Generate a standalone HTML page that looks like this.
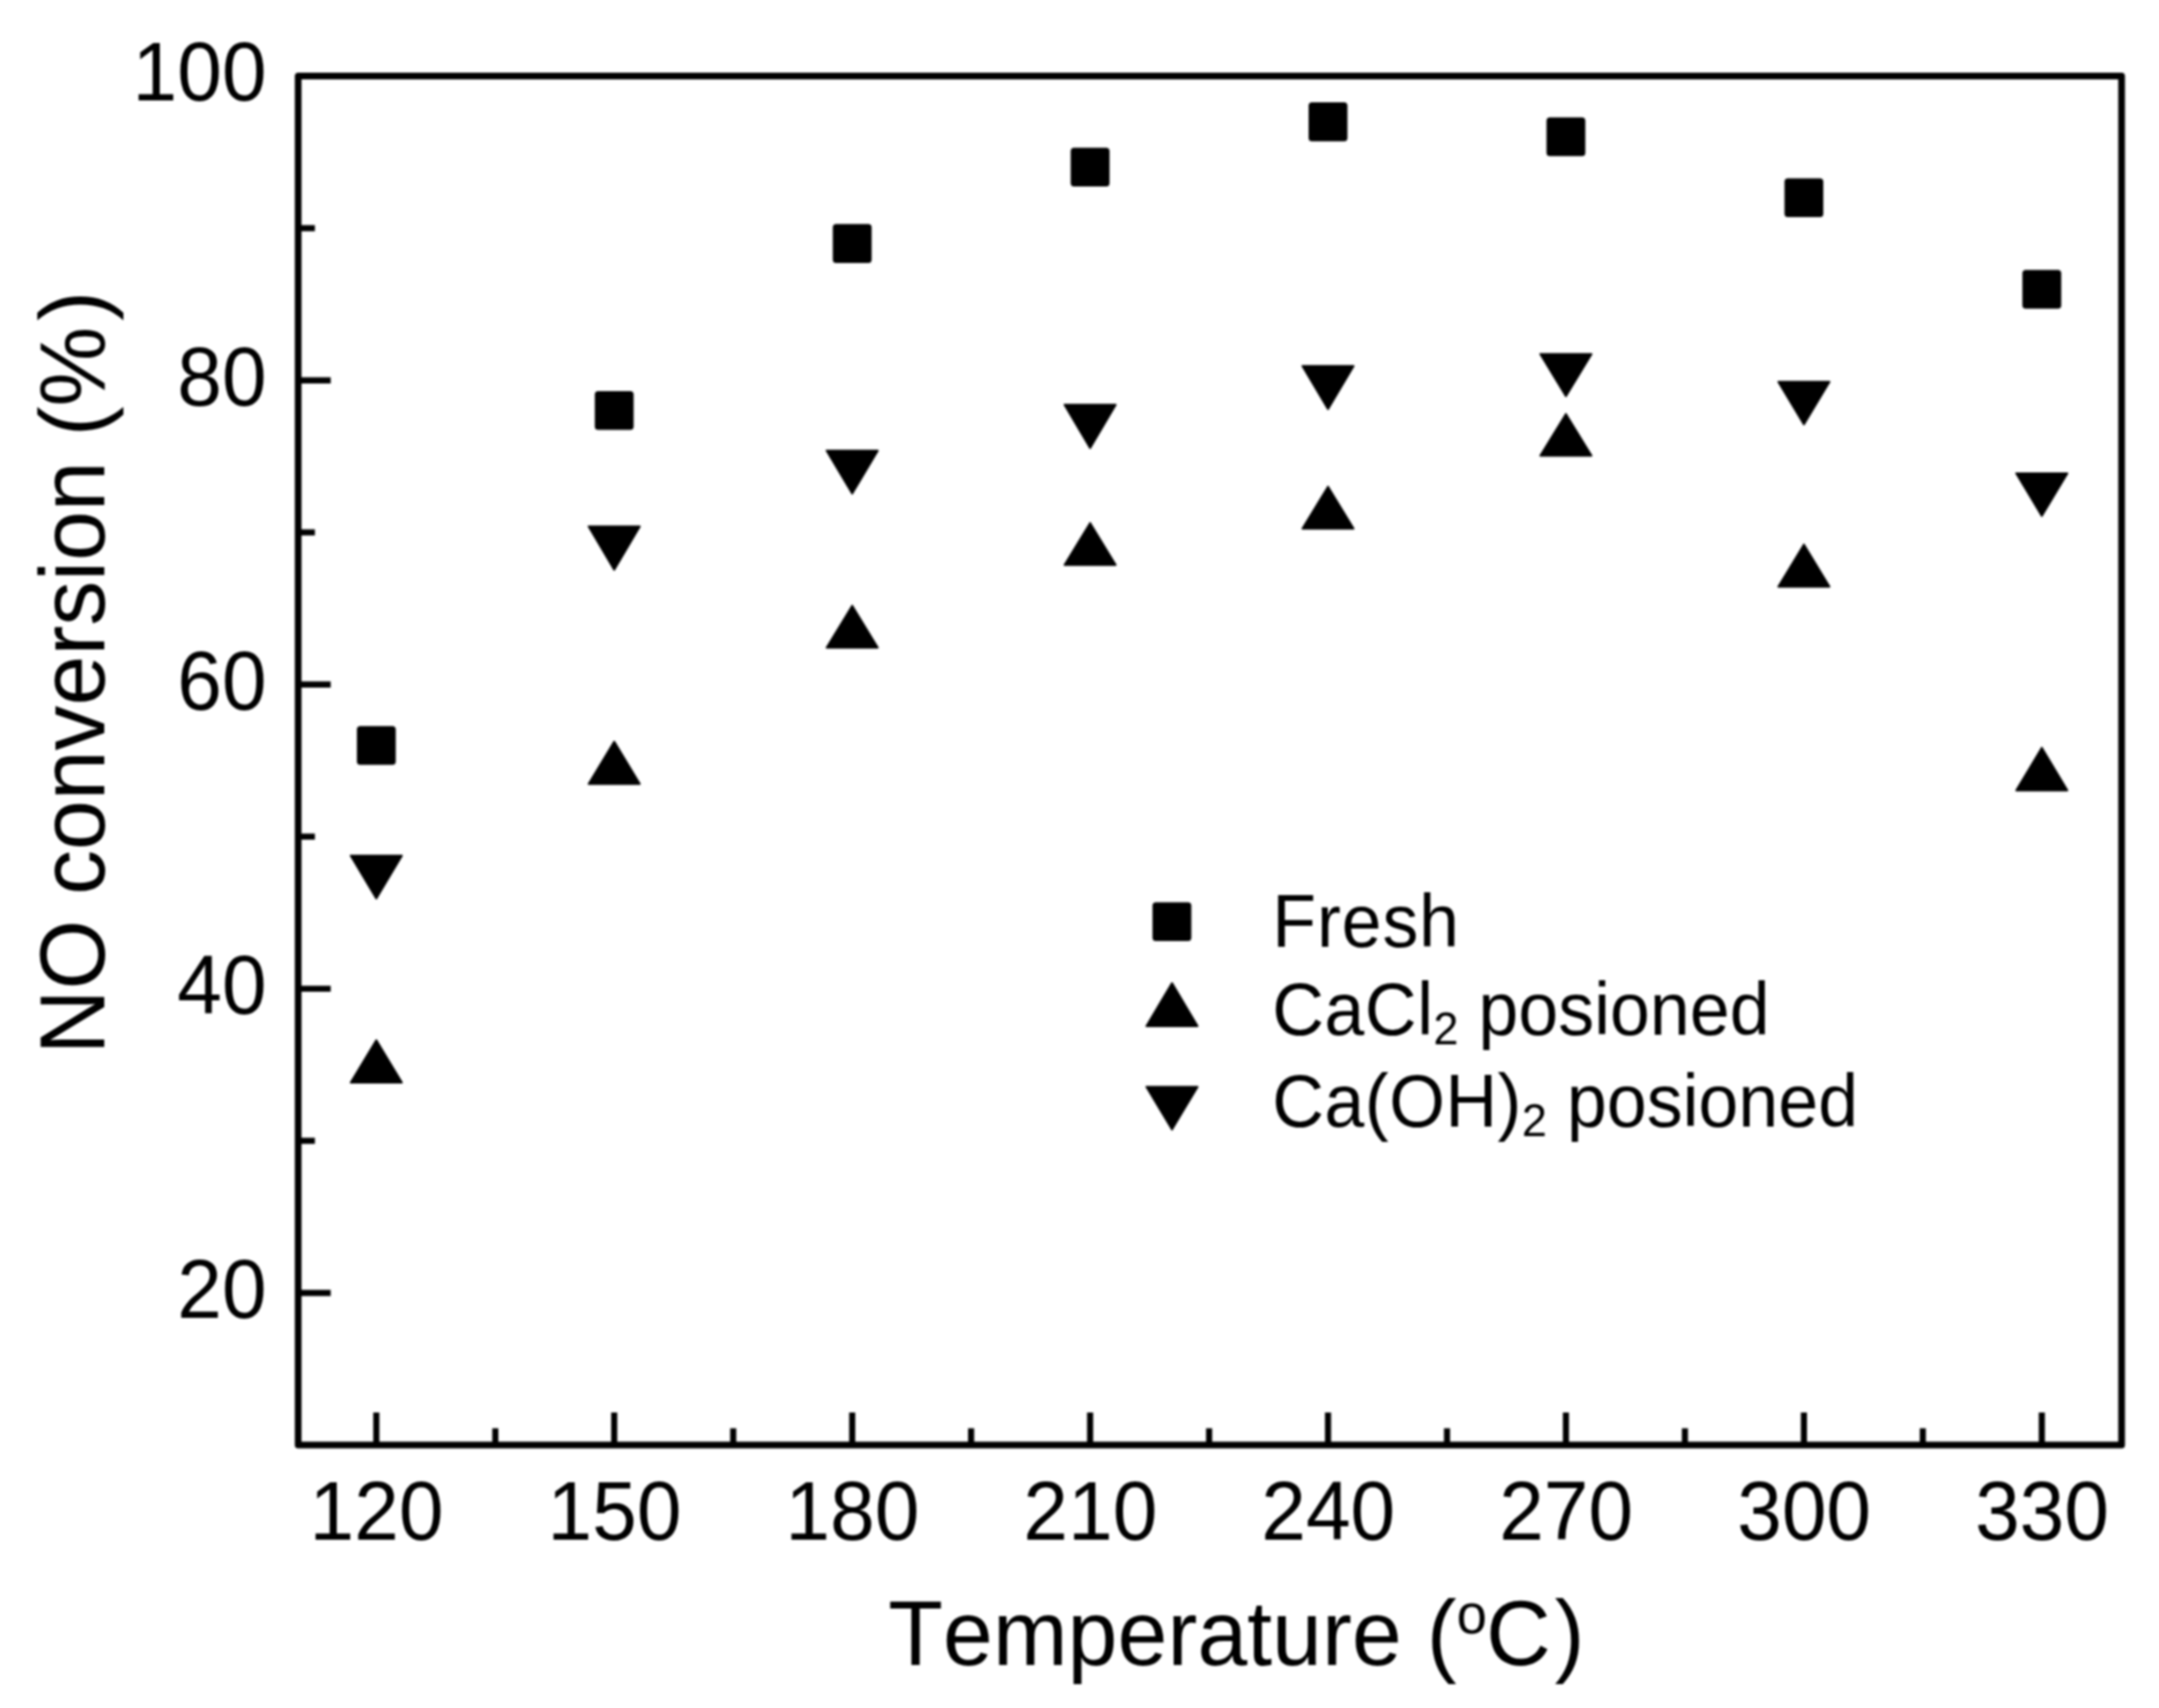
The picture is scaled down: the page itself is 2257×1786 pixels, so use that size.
<!DOCTYPE html>
<html lang="en"><head><meta charset="utf-8"><title>NO conversion vs Temperature</title>
<style>
html,body{margin:0;padding:0;background:#fff;}
body{width:2257px;height:1786px;overflow:hidden;}
svg{display:block;filter:blur(1px);}
text{font-kerning:none;font-family:"Liberation Sans",Arial,Helvetica,sans-serif;fill:#000;}
.tick{font-size:84px;}
.title{font-size:93.8px;}
.leg{font-size:75px;}
</style></head><body>
<svg width="2257" height="1786" viewBox="0 0 2257 1786">
<rect width="2257" height="1786" fill="#fff"/>
<g id="chart">

<rect x="311.7" y="79.6" width="1906.2" height="1431.4" fill="none" stroke="#000" stroke-width="7.0" stroke-linejoin="round"/>
<g stroke="#000" stroke-width="6.4" stroke-linecap="butt" fill="none">
<path d="M311.7 1352.0h34"/>
<path d="M311.7 1033.9h34"/>
<path d="M311.7 715.8h34"/>
<path d="M311.7 397.7h34"/>
<path d="M311.7 1192.9h17.5"/>
<path d="M311.7 874.8h17.5"/>
<path d="M311.7 556.7h17.5"/>
<path d="M311.7 238.6h17.5"/>
<path d="M393.4 1511.0v-34"/>
<path d="M517.8 1511.0v-17.5"/>
<path d="M642.1 1511.0v-34"/>
<path d="M766.5 1511.0v-17.5"/>
<path d="M890.9 1511.0v-34"/>
<path d="M1015.2 1511.0v-17.5"/>
<path d="M1139.6 1511.0v-34"/>
<path d="M1264.0 1511.0v-17.5"/>
<path d="M1388.3 1511.0v-34"/>
<path d="M1512.7 1511.0v-17.5"/>
<path d="M1637.0 1511.0v-34"/>
<path d="M1761.4 1511.0v-17.5"/>
<path d="M1885.8 1511.0v-34"/>
<path d="M2010.1 1511.0v-17.5"/>
<path d="M2134.5 1511.0v-34"/>
</g>
<text class="tick" text-anchor="end" transform="translate(278.6 1377.8) scale(1 1.04)">20</text>
<text class="tick" text-anchor="end" transform="translate(278.6 1059.7) scale(1 1.04)">40</text>
<text class="tick" text-anchor="end" transform="translate(278.6 741.6) scale(1 1.04)">60</text>
<text class="tick" text-anchor="end" transform="translate(278.6 423.5) scale(1 1.04)">80</text>
<text class="tick" text-anchor="end" transform="translate(278.6 105.4) scale(1 1.04)">100</text>
<text class="tick" text-anchor="middle" transform="translate(393.6 1610.0) scale(1 1.04)">120</text>
<text class="tick" text-anchor="middle" transform="translate(642.3 1610.0) scale(1 1.04)">150</text>
<text class="tick" text-anchor="middle" transform="translate(891.1 1610.0) scale(1 1.04)">180</text>
<text class="tick" text-anchor="middle" transform="translate(1139.8 1610.0) scale(1 1.04)">210</text>
<text class="tick" text-anchor="middle" transform="translate(1388.5 1610.0) scale(1 1.04)">240</text>
<text class="tick" text-anchor="middle" transform="translate(1637.2 1610.0) scale(1 1.04)">270</text>
<text class="tick" text-anchor="middle" transform="translate(1886.0 1610.0) scale(1 1.04)">300</text>
<text class="tick" text-anchor="middle" transform="translate(2134.7 1610.0) scale(1 1.04)">330</text>
<text class="title" transform="translate(928.5 1741.0) scale(1 1.025)">Temperature (<tspan font-size="57" dy="-32.5">o</tspan><tspan dy="32.5" dx="-1">C</tspan><tspan dx="4">)</tspan></text>
<text class="title" transform="translate(109.2 1102.6) rotate(-90) scale(1 1.025)">NO conversion (%<tspan dx="6">)</tspan></text>
<g fill="#000" stroke="#000" stroke-width="2" stroke-linejoin="round">
<rect x="374.1" y="760.2" width="38.6" height="38.6" rx="2.5"/>
<rect x="622.8" y="410.0" width="38.6" height="38.6" rx="2.5"/>
<rect x="871.6" y="235.3" width="38.6" height="38.6" rx="2.5"/>
<rect x="1120.3" y="155.5" width="38.6" height="38.6" rx="2.5"/>
<rect x="1369.0" y="108.1" width="38.6" height="38.6" rx="2.5"/>
<rect x="1617.7" y="123.7" width="38.6" height="38.6" rx="2.5"/>
<rect x="1866.5" y="187.5" width="38.6" height="38.6" rx="2.5"/>
<rect x="2115.2" y="283.2" width="38.6" height="38.6" rx="2.5"/>
<path d="M393.4 1087.7L420.1 1131.9L366.7 1131.9Z"/>
<path d="M642.1 775.6L668.8 819.7L615.4 819.7Z"/>
<path d="M890.9 633.4L917.6 677.2L864.2 677.2Z"/>
<path d="M1139.6 546.9L1166.3 590.7L1112.9 590.7Z"/>
<path d="M1388.3 508.9L1415.0 552.7L1361.6 552.7Z"/>
<path d="M1637.0 432.9L1663.7 476.4L1610.3 476.4Z"/>
<path d="M1885.8 569.4L1912.5 613.5L1859.1 613.5Z"/>
<path d="M2134.5 781.9L2161.2 826.5L2107.8 826.5Z"/>
<path d="M366.7 894.7L420.1 894.7L393.4 939.4Z"/>
<path d="M615.4 550.4L668.8 550.4L642.1 595.8Z"/>
<path d="M864.2 471.2L917.6 471.2L890.9 516.1Z"/>
<path d="M1112.9 423.2L1166.3 423.2L1139.6 468.5Z"/>
<path d="M1361.6 382.7L1415.0 382.7L1388.3 427.7Z"/>
<path d="M1610.3 370.2L1663.7 370.2L1637.0 414.2Z"/>
<path d="M1859.1 399.3L1912.5 399.3L1885.8 443.7Z"/>
<path d="M2107.8 494.9L2161.2 494.9L2134.5 539.5Z"/>
<rect x="1205.8" y="944.4" width="38.6" height="38.6" rx="2.5"/>
<path d="M1225.2 1028.1L1251.9 1073.0L1198.5 1073.0Z"/>
<path d="M1198.5 1136.4L1251.9 1136.4L1225.2 1181.1Z"/>
</g>
<text class="leg" transform="translate(1330.0 990.0) scale(1 1.025)"><tspan letter-spacing="0.9">Fresh</tspan></text>
<text class="leg" transform="translate(1330.0 1081.5) scale(1 1.025)"><tspan letter-spacing="0.45">CaCl</tspan><tspan font-size="47" dy="10.6">2</tspan><tspan dy="-10.6"> posioned</tspan></text>
<text class="leg" transform="translate(1330.0 1177.5) scale(1 1.025)"><tspan letter-spacing="0.45">Ca(OH)</tspan><tspan font-size="47" dy="10.6">2</tspan><tspan dy="-10.6"> posioned</tspan></text>
</g></svg></body></html>
